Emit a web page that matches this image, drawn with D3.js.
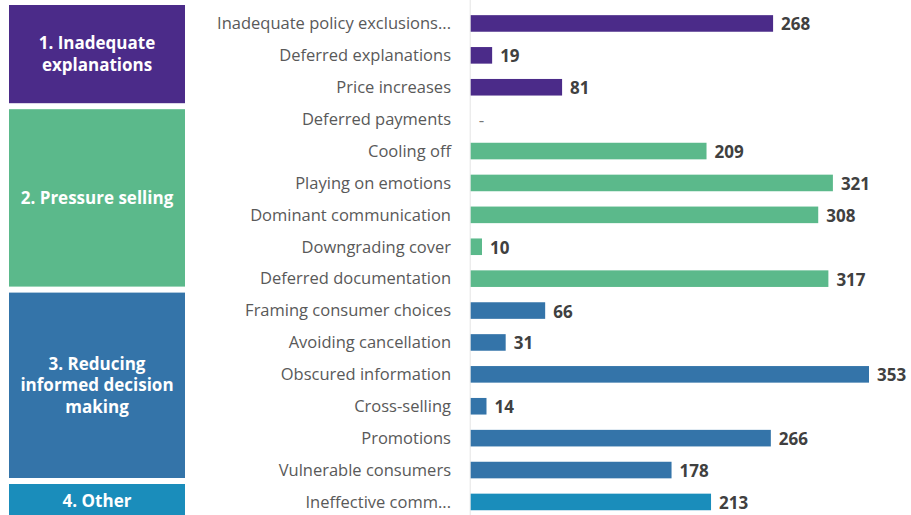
<!DOCTYPE html>
<html>
<head>
<meta charset="utf-8">
<script src="https://cdnjs.cloudflare.com/ajax/libs/d3/7.8.5/d3.min.js"></script>
<style>
  body { margin: 0; background: #fff; }
  svg { display: block; font-family: "Open Sans", "Noto Sans", sans-serif; }
</style>
</head>
<body>
<div id="chart"></div>
<script>
// category rows, top to bottom
var categories = ['Inadequate policy exclusions...', 'Deferred explanations', 'Price increases', 'Deferred payments',
  'Cooling off', 'Playing on emotions', 'Dominant communication', 'Downgrading cover', 'Deferred documentation',
  'Framing consumer choices', 'Avoiding cancellation', 'Obscured information', 'Cross-selling', 'Promotions',
  'Vulnerable consumers', 'Ineffective comm...'];
var values = [268, 19, 81, null, 209, 321, 308, 10, 317, 66, 31, 353, 14, 266, 178, 213];
var rowGroup = [0, 0, 0, 1, 1, 1, 1, 1, 1, 2, 2, 2, 2, 2, 2, 3];

var groupNames = [['1. Inadequate', 'explanations'], ['2. Pressure selling'], ['3. Reducing', 'informed decision', 'making'], ['4. Other']];
var groupColors = ['#4b2b89', '#5bb98b', '#3474a9', '#1a8dbb'];

var width = 911, height = 515;
var svg = d3.select('#chart').append('svg').attr('width', width).attr('height', height);

var x = d3.scaleLinear().domain([0, 353]).range([470.7, 869]);
var y = d3.scaleBand().domain(d3.range(categories.length)).range([7.5, 517.9])
  .paddingInner(0.48).paddingOuter(0.24);
var step = y.step();

// faint baseline
svg.append('line')
  .attr('x1', x(0) - 0.5).attr('x2', x(0) - 0.5)
  .attr('y1', 0).attr('y2', height)
  .attr('stroke', '#e4e4e4').attr('stroke-width', 1);

// group boxes on the left, stacked with a small gap
var groups = [];
groupNames.forEach(function(name, g) {
  var rows = d3.range(categories.length).filter(function(i) { return rowGroup[i] === g; });
  var bottom = y.range()[0] + step * (d3.max(rows) + 1) - (g === 0 ? 0 : 8);
  if (g === groupNames.length - 1) bottom = height + 4; // runs off the bottom
  var top = g === 0 ? 5 : groups[g - 1].bottom + 6;
  groups.push({ name: name, g: g, top: top, bottom: bottom });
});

var box = svg.selectAll('g.group').data(groups).enter().append('g').attr('class', 'group');
box.append('rect')
  .attr('x', 9).attr('width', 176)
  .attr('y', function(d) { return d.top; })
  .attr('height', function(d) { return d.bottom - d.top; })
  .attr('fill', function(d) { return groupColors[d.g]; });
box.each(function(d) {
  var mid = d.g === 3 ? 501 : (d.top + d.bottom) / 2;
  var lh = 21.5;
  var t = d3.select(this).append('text')
    .attr('x', 97).attr('text-anchor', 'middle')
    .attr('fill', '#fff').attr('font-weight', 700).attr('font-size', '17px');
  d.name.forEach(function(line, k) {
    t.append('tspan').attr('x', 97)
      .attr('y', mid + (k - (d.name.length - 1) / 2) * lh)
      .attr('dy', '0.35em').text(line);
  });
});

// category labels
svg.selectAll('text.cat').data(categories).enter().append('text')
  .attr('class', 'cat')
  .attr('x', 451)
  .attr('y', function(d, i) { return y(i) + y.bandwidth() / 2; })
  .attr('dy', '0.35em')
  .attr('text-anchor', 'end')
  .attr('fill', '#595959')
  .attr('font-size', '16.5px')
  .text(function(d) { return d; });

// bars
svg.selectAll('rect.bar').data(values).enter().append('rect')
  .attr('class', 'bar')
  .attr('x', x(0))
  .attr('y', function(d, i) { return y(i); })
  .attr('height', y.bandwidth())
  .attr('width', function(d) { return d == null ? 0 : x(d) - x(0); })
  .attr('fill', function(d, i) { return groupColors[rowGroup[i]]; });

// value labels
svg.selectAll('text.val').data(values).enter().append('text')
  .attr('class', 'val')
  .attr('x', function(d) { return d == null ? x(0) + 8 : x(d) + 8; })
  .attr('y', function(d, i) { return y(i) + y.bandwidth() / 2 + 1; })
  .attr('dy', '0.35em')
  .attr('fill', function(d) { return d == null ? '#777' : '#404040'; })
  .attr('font-weight', function(d) { return d == null ? 400 : 700; })
  .attr('font-size', '17px')
  .text(function(d) { return d == null ? '-' : d; });
</script>
</body>
</html>
